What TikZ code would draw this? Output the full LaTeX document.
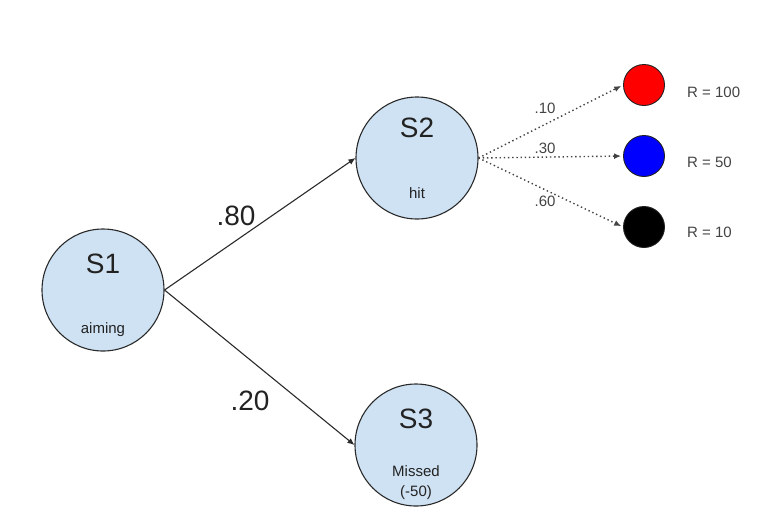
\documentclass[tikz,border=0pt]{standalone}
\usepackage{fontspec}
\setmainfont{Liberation Sans}
\usetikzlibrary{arrows.meta}
\definecolor{stfill}{HTML}{CFE2F3}
\definecolor{ink}{HTML}{222222}
\definecolor{lineclr}{HTML}{2A2A2A}
\tikzset{
  state/.style={circle, draw=lineclr, line width=1.1pt, fill=stfill, minimum size=122pt, inner sep=0pt},
  big/.style={font=\fontsize{28}{30}\selectfont, text=ink, anchor=base, inner sep=0pt},
  small/.style={font=\fontsize{15}{17}\selectfont, text=ink, anchor=base, inner sep=0pt},
  tiny/.style={font=\fontsize{15}{17}\selectfont, text=ink!85, anchor=base, inner sep=0pt},
  rew/.style={circle, draw=ink, line width=0.9pt, minimum size=41pt, inner sep=0pt},
  solidarr/.style={draw=lineclr, line width=1.1pt, -{Latex[length=7pt,width=6pt]}},
  dotarr/.style={draw=ink!85, line width=1.4pt, dash pattern=on 1.4pt off 2.8pt, -{Latex[length=7pt,width=6pt]}, shorten >=2pt}
}
\begin{document}
\begin{tikzpicture}[x=1pt,y=-1pt]
\useasboundingbox (0,0) rectangle (776,528);
\node[state] (s1) at (103,290) {};
\node[state] (s2) at (417,158) {};
\node[state] (s3) at (416,445) {};
\node[big] (s1t) at (103,273) {S1};
\node[small] (s1s) at (103,333) {aiming};
\node[big] (s2t) at (417,137) {S2};
\node[small] (s2s) at (417,198) {hit};
\node[big] (s3t) at (416,428) {S3};
\node[small] (s3s) at (416,476) {Missed};
\node[small] (s3u) at (416,496) {(-50)};
\node[rew, fill=red] (r1) at (644,85) {};
\node[rew, fill=blue] (r2) at (644,156) {};
\node[rew, fill=black] (r3) at (644,227) {};
\draw[solidarr] (s1.east) -- (s2.west);
\draw[solidarr] (s1.east) -- (s3.west);
\draw[dotarr] (s2.east) -- (r1.west);
\draw[dotarr] (s2.east) -- (r2.west);
\draw[dotarr] (s2.east) -- (r3.west);
\node[big] (l80) at (236,225) {.80};
\node[big] (l20) at (250,410) {.20};
\node[tiny] (l10) at (545,113) {.10};
\node[tiny] (l30) at (545,153) {.30};
\node[tiny] (l60) at (545,206) {.60};
\node[tiny, anchor=base west] (t1) at (687,97) {R = 100};
\node[tiny, anchor=base west] (t2) at (687,167) {R = 50};
\node[tiny, anchor=base west] (t3) at (687,237) {R = 10};
\end{tikzpicture}
\end{document}
